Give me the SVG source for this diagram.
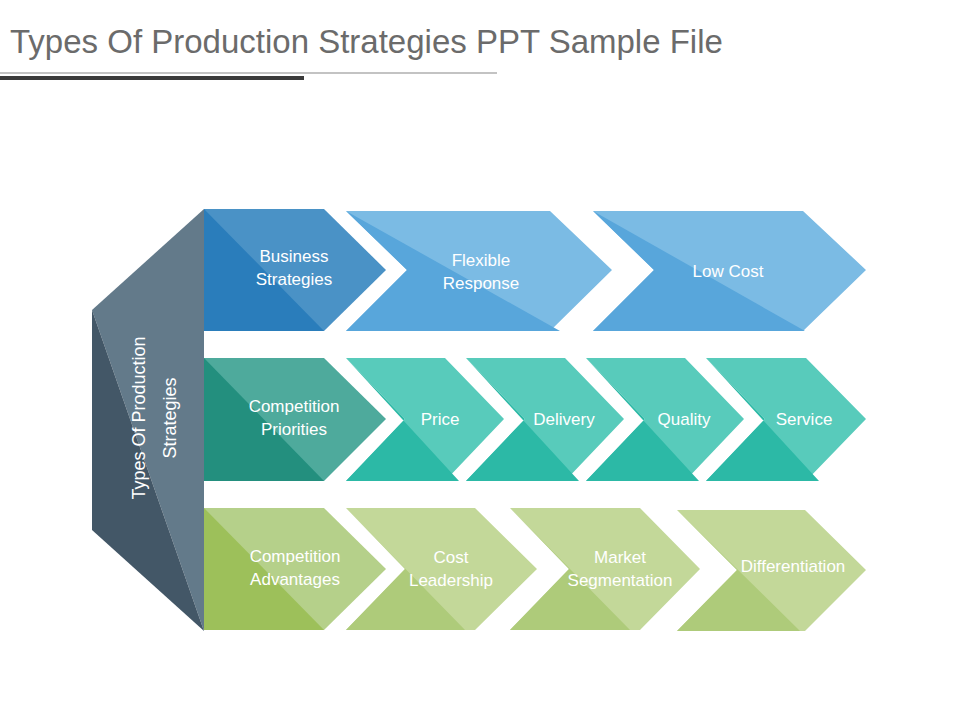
<svg xmlns="http://www.w3.org/2000/svg" width="960" height="720" viewBox="0 0 960 720">
<style>
text{font-family:"Liberation Sans",Arial,sans-serif;fill:#fff;font-size:17px;text-anchor:middle}
.b1{fill:#4a92c6}.b1d{fill:#2a7dbb}
.b2{fill:#7bbbe4}.b2d{fill:#58a6db}
.t1{fill:#4eaa9c}.t1d{fill:#238f7e}
.t2{fill:#58cbbb}.t2d{fill:#2cb9a6}
.g1{fill:#b5d08a}.g1d{fill:#9dc05a}
.g2{fill:#c3d899}.g2d{fill:#aecb7a}
</style>
<rect width="960" height="720" fill="#fff"/>
<text x="10" y="53" style="font-size:33px;fill:#6b6b6b;text-anchor:start">Types Of Production Strategies PPT Sample File</text>
<line x1="0" y1="73" x2="497" y2="73" stroke="#888" stroke-width="1.2"/>
<line x1="0" y1="78" x2="304" y2="78" stroke="#3a3a3a" stroke-width="4"/>
<g id="side">
<polygon points="204,209 204,631 92,310" fill="#637a8a"/>
<polygon points="92,310 92,530 204,631" fill="#435767"/>
<text transform="translate(145,418) rotate(-90)" style="font-size:18px">Types Of Production</text>
<text transform="translate(176,418) rotate(-90)" style="font-size:18px">Strategies</text>
</g>
<g id="business">
<polygon class="b1" points="204,209 324,209 386,270 324,331 204,331"/>
<polygon class="b1d" points="204,209 324,331 204,331"/>
<text x="294" y="262">Business</text><text x="294" y="285">Strategies</text>
</g>
<g id="flexible">
<polygon class="b2" points="346,211 550,211 612,270 550,331 346,331 407,270"/>
<polygon class="b2d" points="346,211 560,331 346,331 407,270"/>
<text x="481" y="266">Flexible</text><text x="481" y="289">Response</text>
</g>
<g id="lowcost">
<polygon class="b2" points="593,211 803,211 866,270 803,331 593,331 654,270"/>
<polygon class="b2d" points="593,211 805,331 593,331 654,270"/>
<text x="728" y="277">Low Cost</text>
</g>
<g id="priorities">
<polygon class="t1" points="204,358 324,358 386,419 324,481 204,481"/>
<polygon class="t1d" points="204,358 324,481 204,481"/>
<text x="294" y="412">Competition</text><text x="294" y="435">Priorities</text>
</g>
<g id="price">
<polygon class="t2" points="346,358 445,358 504,419 445,481 346,481 405,419"/>
<polygon class="t2d" points="346,358 459,481 346,481 405,419"/>
<text x="440" y="425">Price</text>
</g>
<g id="delivery">
<polygon class="t2" points="466,358 565,358 624,419 565,481 466,481 525,419"/>
<polygon class="t2d" points="466,358 579,481 466,481 525,419"/>
<text x="564" y="425">Delivery</text>
</g>
<g id="quality">
<polygon class="t2" points="586,358 685,358 744,419 685,481 586,481 645,419"/>
<polygon class="t2d" points="586,358 699,481 586,481 645,419"/>
<text x="684" y="425">Quality</text>
</g>
<g id="service">
<polygon class="t2" points="706,358 806,358 866,419 806,481 706,481 765,419"/>
<polygon class="t2d" points="706,358 819,481 706,481 765,419"/>
<text x="804" y="425">Service</text>
</g>
<g id="advantages">
<polygon class="g1" points="204,508 324,508 386,569 324,630 204,630"/>
<polygon class="g1d" points="204,508 324,630 204,630"/>
<text x="295" y="562">Competition</text><text x="295" y="585">Advantages</text>
</g>
<g id="cost">
<polygon class="g2" points="346,508 475,508 537,569 475,630 346,630 405,569"/>
<polygon class="g2d" points="346,508 465,630 346,630 405,569"/>
<text x="451" y="563">Cost</text><text x="451" y="586">Leadership</text>
</g>
<g id="market">
<polygon class="g2" points="510,508 640,508 700,569 640,630 510,630 569,569"/>
<polygon class="g2d" points="510,508 630,630 510,630 569,569"/>
<text x="620" y="563">Market</text><text x="620" y="586">Segmentation</text>
</g>
<g id="differentiation">
<polygon class="g2" points="677,510 805,510 866,570 805,631 677,631 737,570"/>
<polygon class="g2d" points="677,510 800,631 677,631 737,570"/>
<text x="793" y="572">Differentiation</text>
</g>
</svg>
